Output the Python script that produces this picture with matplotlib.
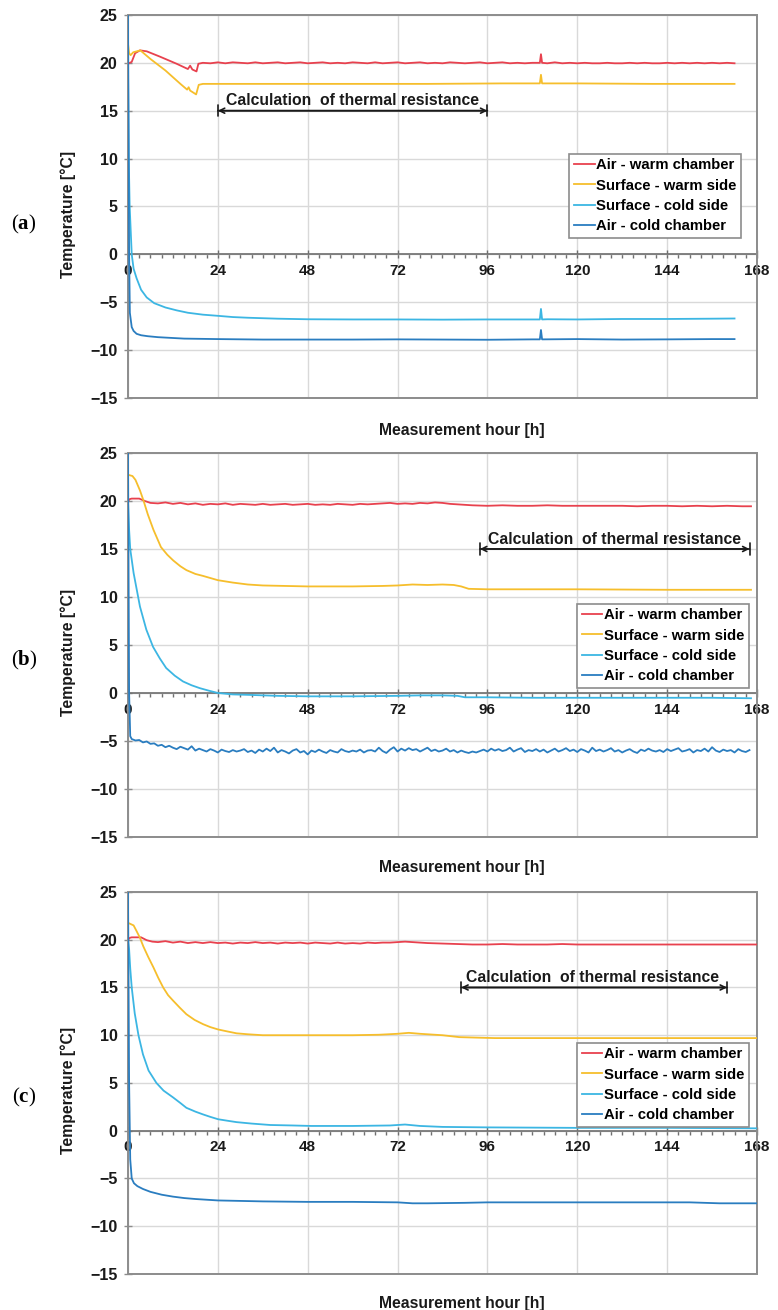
import matplotlib
matplotlib.use("Agg")
import matplotlib.pyplot as plt
from matplotlib.patches import Rectangle
import numpy as np

plt.rcParams['font.family'] = ['Liberation Sans', 'DejaVu Sans']
plt.rcParams['mathtext.fontset'] = 'custom'
plt.rcParams['mathtext.bf'] = 'Liberation Serif:bold'
plt.rcParams['mathtext.rm'] = 'Liberation Serif'

# ---------------- data ----------------
labels = ["Air - warm chamber", "Surface - warm side", "Surface - cold side", "Air - cold chamber"]
colors = ["#E8414E", "#F6BE2C", "#3CB6E3", "#2A7DC0"]
panel_names = ["a", "b", "c"]
xticks = [0, 24, 48, 72, 96, 120, 144, 168]
yticks = [-15, -10, -5, 0, 5, 10, 15, 20, 25]

# Panel (a)
a_warm_air_t = [0, 0.5, 1, 1.9, 3.2, 5, 8.5, 13, 16.0, 16.6, 17.2, 18.3, 18.8,
                20, 22, 24, 26, 28, 30, 32, 34, 36, 38, 40, 42, 44, 46, 48, 50, 52, 54, 56, 58, 60,
                62, 64, 66, 68, 70, 72, 74, 76, 78, 80, 82, 84, 86, 88, 90, 92, 94, 96, 98, 100,
                102, 104, 106, 108, 110.0, 110.3, 110.6, 112, 114, 116, 118, 120, 122, 124, 126,
                128, 130, 132, 134, 136, 138, 140, 142, 144, 146, 148, 150, 152, 154, 156, 158, 160, 162]
a_warm_air_v = [19.9, 20.0, 20.1, 21.0, 21.3, 21.2, 20.65, 19.9, 19.35, 19.7, 19.3, 19.1, 19.9,
                20.0, 19.95, 20.05, 19.95, 20.05, 20.0, 19.95, 20.05, 19.95, 20.0, 20.05, 19.95, 20.0,
                20.05, 19.95, 20.0, 20.05, 19.95, 20.0, 19.95, 20.05, 20.0, 19.95, 20.05, 19.95, 20.0,
                20.05, 19.95, 20.0, 20.05, 19.95, 20.0, 19.95, 20.05, 20.0, 19.95, 20.0, 20.05, 19.95,
                20.0, 20.05, 19.95, 20.0, 19.95, 20.0, 20.0, 20.9, 20.0, 19.95, 20.05, 19.95, 20.0,
                19.95, 20.0, 19.95, 19.95, 20.0, 19.95, 19.95, 20.0, 19.95, 20.0, 19.95, 19.95, 20.0,
                19.95, 20.0, 19.95, 20.0, 19.95, 20.0, 19.95, 20.0, 19.95]
a_warm_surf_t = [0, 0.3, 0.7, 1.4, 3.3, 6, 10, 14, 15.8, 16.2, 16.6, 18.2, 18.9, 20, 40, 60, 80,
                 100, 110.0, 110.3, 110.6, 120, 140, 162]
a_warm_surf_v = [22.0, 21.0, 20.8, 21.1, 21.3, 20.4, 19.2, 17.8, 17.2, 17.45, 17.1, 16.7, 17.7, 17.8,
                 17.8, 17.8, 17.8, 17.85, 17.85, 18.75, 17.85, 17.85, 17.8, 17.8]
a_cold_surf_t = [0, 0.2, 0.45, 1.0, 1.5, 2.3, 3.5, 5, 7, 10, 13, 16, 20, 24, 28, 32, 40, 48, 60, 72,
                 84, 96, 108, 110.0, 110.3, 110.6, 112, 120, 132, 144, 156, 162]
a_cold_surf_v = [20, 10, 5, 0, -1.5, -2.5, -3.7, -4.5, -5.1, -5.55, -5.85, -6.1, -6.3, -6.42, -6.55,
                 -6.62, -6.72, -6.78, -6.8, -6.8, -6.82, -6.8, -6.8, -6.8, -5.7, -6.8, -6.78, -6.8,
                 -6.75, -6.75, -6.72, -6.7]
a_cold_air_t = [0, 0.3, 0.5, 1.0, 1.5, 2.3, 3.5, 5.3, 8, 10.3, 15, 24, 36, 48, 60, 72, 84, 96, 108,
                110.0, 110.3, 110.6, 120, 132, 144, 156, 162]
a_cold_air_v = [25, 0, -6.1, -7.6, -8.0, -8.3, -8.45, -8.55, -8.65, -8.7, -8.8, -8.85, -8.9, -8.9,
                -8.9, -8.88, -8.9, -8.92, -8.88, -8.88, -7.9, -8.88, -8.85, -8.9, -8.88, -8.85, -8.85]

# Panel (b)
b_warm_air_t = [0, 0.5, 1, 3, 4.5, 6, 8, 10, 12, 14, 16, 18, 20, 22, 24, 26, 28, 30, 32, 34, 36, 38,
                40, 42, 44, 46, 48, 50, 52, 54, 56, 58, 60, 62, 64, 66, 68, 70, 72, 74, 76, 78, 80,
                82, 84, 86, 88, 90, 92, 96, 100, 104, 108, 112, 116, 120, 124, 128, 132, 136, 140,
                144, 148, 152, 156, 160, 164, 166.4]
b_warm_air_v = [20.0, 20.2, 20.25, 20.25, 20.0, 19.8, 19.75, 19.85, 19.7, 19.8, 19.65, 19.75, 19.6,
                19.7, 19.65, 19.75, 19.6, 19.7, 19.65, 19.6, 19.7, 19.6, 19.65, 19.7, 19.6, 19.65,
                19.7, 19.6, 19.65, 19.6, 19.7, 19.65, 19.6, 19.7, 19.65, 19.7, 19.75, 19.8, 19.7,
                19.75, 19.7, 19.8, 19.75, 19.85, 19.8, 19.7, 19.65, 19.6, 19.55, 19.5, 19.55, 19.5,
                19.5, 19.55, 19.5, 19.5, 19.5, 19.5, 19.5, 19.45, 19.5, 19.5, 19.45, 19.5, 19.45,
                19.5, 19.45, 19.45]
b_warm_surf_t = [0.3, 1.2, 2.0, 3.2, 4.1, 5.3, 6.8, 8.8, 10.5, 12.1, 14, 15.6, 18, 20, 24, 28, 32,
                 36, 42, 48, 60, 68, 72, 76, 80, 84, 87, 89, 91, 96, 120, 144, 166.4]
b_warm_surf_v = [22.7, 22.6, 22.2, 21.1, 20.1, 18.6, 17.0, 15.2, 14.4, 13.8, 13.2, 12.8, 12.4, 12.2,
                 11.75, 11.5, 11.3, 11.2, 11.15, 11.1, 11.1, 11.15, 11.2, 11.3, 11.25, 11.3, 11.25,
                 11.1, 10.85, 10.8, 10.8, 10.75, 10.75]
b_cold_surf_t = [0, 0.3, 0.6, 1.5, 3.2, 4.9, 6.7, 8.5, 10.2, 12.5, 14.7, 17, 19.2, 21.5, 24, 28,
                 32.5, 40, 48, 60, 72, 78, 84, 88, 90, 96, 108, 120, 132, 144, 156, 166.4]
b_cold_surf_v = [20, 17, 15, 12.5, 9.0, 6.6, 4.8, 3.6, 2.6, 1.8, 1.2, 0.8, 0.5, 0.25, 0.0, -0.15,
                 -0.2, -0.3, -0.35, -0.35, -0.3, -0.25, -0.25, -0.3, -0.45, -0.45, -0.5, -0.5, -0.5,
                 -0.5, -0.5, -0.55]
b_cold_air_start_t = [0, 0.3, 0.6]
b_cold_air_start_v = [25, 0, -4.5]
b_cold_air_hourly = [
    -4.8, -4.95, -4.9, -5.15, -5.05, -5.3, -5.25, -5.5, -5.4, -5.65,
    -5.5, -5.7, -5.85, -5.6, -5.75, -5.9, -5.55, -6.0, -5.8, -5.95,
    -6.1, -5.85, -6.0, -6.2, -5.9, -6.05, -6.15, -5.95, -6.1, -6.0,
    -5.85, -6.15, -6.0, -6.25, -5.9, -6.1, -5.8, -6.05, -5.7, -6.2,
    -5.95, -6.1, -6.3, -6.0, -5.85, -6.2, -6.05, -6.4, -6.0, -6.15,
    -5.9, -6.1, -6.25, -5.95, -6.1, -6.2, -5.85, -6.05, -6.15, -6.0,
    -6.1, -5.9, -6.2, -6.0, -5.95, -6.1, -5.7, -6.05, -6.25, -5.9,
    -5.65, -6.1, -5.8, -6.0, -5.75, -5.95, -5.85, -6.1, -5.9, -5.7,
    -6.05, -5.9, -6.1, -6.0, -5.8, -6.1, -5.95, -6.2, -6.0, -6.15,
    -6.25, -6.1, -6.2, -6.05, -5.9, -6.1, -5.8, -6.0, -5.85, -6.05,
    -5.95, -5.7, -6.1, -5.9, -5.75, -6.15, -5.95, -6.05, -5.85, -6.1,
    -5.9, -6.2, -6.0, -5.8, -6.1, -5.95, -5.75, -6.05, -5.9, -6.15,
    -5.85, -6.0, -6.2, -5.7, -6.05, -5.9, -6.1, -5.95, -5.75, -6.1,
    -5.95, -6.2, -6.0, -5.85, -6.1, -6.25, -5.9, -6.05, -5.8, -6.0,
    -6.1, -5.95, -6.15, -5.85, -6.05, -5.9, -5.75, -6.1, -6.0, -5.85,
    -6.2, -5.95, -6.05, -5.8, -6.1, -5.65, -6.0, -6.15, -5.9, -6.05,
    -5.95, -6.2, -5.85, -6.05, -6.15, -5.95]

# Panel (c)
c_warm_air_t = [0, 0.5, 1, 3.5, 5, 6.5, 8, 10, 12, 14, 16, 18, 20, 22, 24, 26, 28, 30, 32, 34, 36,
                38, 40, 42, 44, 46, 48, 50, 52, 54, 56, 58, 60, 62, 64, 66, 68, 70, 72, 74, 76, 78,
                80, 84, 88, 92, 96, 100, 104, 108, 112, 116, 120, 124, 128, 132, 136, 140, 144,
                148, 152, 156, 160, 164, 168]
c_warm_air_v = [20.0, 20.2, 20.25, 20.25, 19.95, 19.8, 19.75, 19.85, 19.7, 19.8, 19.65, 19.75, 19.65,
                19.75, 19.65, 19.7, 19.6, 19.7, 19.65, 19.75, 19.65, 19.7, 19.6, 19.7, 19.65, 19.7,
                19.6, 19.7, 19.65, 19.6, 19.7, 19.6, 19.65, 19.6, 19.7, 19.65, 19.7, 19.7, 19.75,
                19.8, 19.75, 19.7, 19.65, 19.6, 19.55, 19.5, 19.5, 19.55, 19.5, 19.5, 19.5, 19.55,
                19.5, 19.5, 19.5, 19.5, 19.5, 19.5, 19.5, 19.5, 19.5, 19.5, 19.5, 19.5, 19.5]
c_warm_surf_t = [0.4, 1.5, 2.3, 3.2, 4.1, 5.4, 6.8, 8.1, 9.4, 10.7, 12.1, 13.8, 15.6, 17.8, 20.1,
                 22, 24.1, 26.5, 29, 32, 36, 42, 48, 60, 67, 72, 75, 78, 84, 88.5, 93, 98, 120,
                 144, 168]
c_warm_surf_v = [21.7, 21.5, 20.9, 20.2, 19.3, 18.2, 17.1, 16.0, 15.0, 14.2, 13.6, 12.9, 12.2, 11.6,
                 11.15, 10.85, 10.6, 10.4, 10.2, 10.1, 10.0, 10.0, 10.0, 10.0, 10.05, 10.15, 10.25,
                 10.15, 10.0, 9.8, 9.75, 9.7, 9.7, 9.7, 9.7]
c_cold_surf_t = [0, 0.3, 0.6, 1.0, 1.8, 2.8, 4, 5.5, 7.6, 9.5, 12, 14, 15.6, 18, 20.1, 22, 24.1,
                 26.5, 29, 33, 38, 44, 49, 60, 70, 74, 78, 84, 96, 120, 144, 168]
c_cold_surf_v = [20, 19, 17, 15, 12.3, 10, 8.0, 6.3, 5.0, 4.2, 3.5, 2.9, 2.4, 2.0, 1.7, 1.45, 1.2,
                 1.05, 0.9, 0.75, 0.6, 0.55, 0.5, 0.5, 0.55, 0.65, 0.5, 0.4, 0.35, 0.3, 0.3, 0.25]
c_cold_air_t = [0, 0.3, 0.6, 1.0, 1.6, 2.5, 4, 6, 9, 12, 15, 18, 24, 30, 36, 48, 60, 72, 76, 80,
                90, 96, 120, 150, 158, 168]
c_cold_air_v = [25, 5, -3, -5.0, -5.5, -5.8, -6.1, -6.4, -6.7, -6.9, -7.05, -7.15, -7.3, -7.35,
                -7.4, -7.45, -7.45, -7.5, -7.6, -7.6, -7.55, -7.5, -7.5, -7.5, -7.6, -7.6]

# "Calculation of thermal resistance" spans (h) and text centres
calc_spans = [(24, 96), (94, 166), (89, 160)]
calc_text_x = [60, 130, 124]

# ---------------- figure ----------------
fig = plt.figure(figsize=(7.78, 13.10), dpi=100)
axes_rects = [
    [0.1645, 0.6962, 0.8085, 0.2924],
    [0.1645, 0.3611, 0.8085, 0.2931],
    [0.1645, 0.0275, 0.8085, 0.2916],
]
legend_anchor = [(0.9746, 0.637), (0.987, 0.607), (0.987, 0.605)]
xlabel_y = [-0.066, -0.06, -0.058]
panel_label_y = [0.829, 0.496, 0.162]

b_cold_air_t = b_cold_air_start_t + list(np.arange(1, len(b_cold_air_hourly) + 1, dtype=float))
b_cold_air_v = b_cold_air_start_v + b_cold_air_hourly

series = [
    [(a_warm_air_t, a_warm_air_v), (a_warm_surf_t, a_warm_surf_v),
     (a_cold_surf_t, a_cold_surf_v), (a_cold_air_t, a_cold_air_v)],
    [(b_warm_air_t, b_warm_air_v), (b_warm_surf_t, b_warm_surf_v),
     (b_cold_surf_t, b_cold_surf_v), (b_cold_air_t, b_cold_air_v)],
    [(c_warm_air_t, c_warm_air_v), (c_warm_surf_t, c_warm_surf_v),
     (c_cold_surf_t, c_cold_surf_v), (c_cold_air_t, c_cold_air_v)],
]

frame_col = "#8C8C8C"
grid_col = "#D9D9D9"
txt_col = "#1A1A1A"

for i, rect in enumerate(axes_rects):
    ax = fig.add_axes(rect)
    ax.set_xlim(0, 168)
    ax.set_ylim(-15, 25)
    ax.set_xticks(xticks)
    ax.set_yticks(yticks)
    ax.set_xticks(np.arange(0, 169, 3), minor=True)
    ax.grid(True, which='major', color=grid_col, lw=1.0, zorder=0)
    ax.set_axisbelow(True)
    for s in ['top', 'right', 'left']:
        ax.spines[s].set_visible(False)
    ax.spines['bottom'].set_position(('data', 0))
    ax.spines['bottom'].set_color("#6E6E6E")
    ax.spines['bottom'].set_linewidth(1.2)
    ax.spines['bottom'].set_zorder(1.5)
    ax.add_patch(Rectangle((0, 0), 1, 1, transform=ax.transAxes, fill=False,
                           ec=frame_col, lw=1.4, clip_on=False, zorder=1.6))
    ax.tick_params(axis='x', which='major', direction='inout', length=6, width=1.0,
                   color="#6E6E6E", pad=4.0)
    ax.tick_params(axis='x', which='minor', direction='out', length=3, width=1.0,
                   color="#6E6E6E")
    ax.tick_params(axis='y', which='major', direction='inout', length=6, width=1.0,
                   color=frame_col, pad=4.5)
    ax.set_xticklabels([str(v) for v in xticks], fontsize=11, fontweight='bold', color=txt_col)
    ax.set_yticklabels([f"\u2212{abs(v)}" if v < 0 else str(v) for v in yticks],
                       fontsize=11.5, fontweight='bold', color=txt_col)

    for (t, v), col, lab in zip(series[i], colors, labels):
        ax.plot(t, v, color=col, lw=1.3, label=lab, zorder=3)

    leg = ax.legend(loc='upper right', bbox_to_anchor=legend_anchor[i], borderaxespad=0,
                    fancybox=False, framealpha=1, edgecolor=frame_col,
                    prop={'weight': 'bold', 'size': 10.7}, handlelength=1.4,
                    handletextpad=0.1, labelspacing=0.42, borderpad=0.3)
    leg.get_frame().set_linewidth(1.2)
    leg.set_zorder(5)

    x0, x1 = calc_spans[i]
    ax.annotate("", xy=(x0, 15), xytext=(x1, 15),
                arrowprops=dict(arrowstyle="<->", color=txt_col, lw=1.2,
                                shrinkA=0, shrinkB=0, mutation_scale=9), zorder=4)
    ax.annotate("", xy=(x0, 15), xytext=(x1, 15),
                arrowprops=dict(arrowstyle="|-|", color=txt_col, lw=1.2,
                                shrinkA=0, shrinkB=0, mutation_scale=4), zorder=4)
    ax.text(calc_text_x[i], 15.55, "Calculation  of thermal resistance", ha='center',
            va='baseline', fontsize=11.3, fontweight='bold', color=txt_col, zorder=4)

    ax.set_xlabel("Measurement hour [h]", fontsize=11.3, fontweight='bold', color=txt_col)
    ax.xaxis.set_label_coords(0.531, xlabel_y[i])
    ax.set_ylabel("Temperature [°C]", fontsize=11.3, fontweight='bold', color=txt_col)
    ax.yaxis.set_label_coords(-0.083, 0.48)

    fig.text(0.031, panel_label_y[i], r"($\mathbf{%s}$)" % panel_names[i],
             family='Liberation Serif', fontsize=15, ha='center', va='center')

fig.savefig("out.png", dpi=100)
